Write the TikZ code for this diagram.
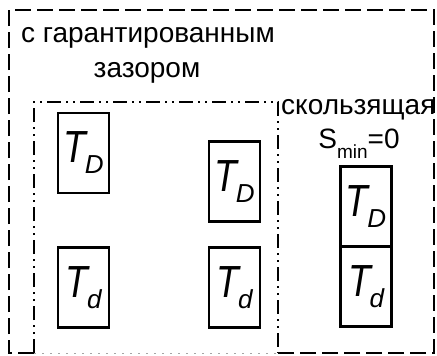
\documentclass[tikz,border=0pt]{standalone}
\usepackage{fontspec}
\setmainfont{Liberation Sans}
\usepackage{graphicx}
\usetikzlibrary{positioning}
\newcommand{\tlab}[1]{\scalebox{0.82}[1]{\fontsize{45}{45}\selectfont\itshape T}\kern-1pt\raisebox{-11pt}{\fontsize{26}{26}\selectfont\itshape #1}}

\begin{document}
\begin{tikzpicture}[x=1pt,y=-1pt, font=\fontsize{28}{32}\selectfont,
    dopusk/.style={draw=black, line width=2.6pt, minimum width=51pt, minimum height=80pt, inner sep=0pt, align=center},
    vnesh/.style={line width=1.8pt, dash pattern=on 16pt off 6pt},
    vnutr/.style={line width=1.5pt, dash pattern=on 14pt off 5pt on 2pt off 5pt on 2pt off 5pt},
    txt/.style={inner sep=0pt}]
  \useasboundingbox (0,0) rectangle (437,356);
  % outer and inner frames
  \draw[vnesh] (34,353) -- (9,353) -- (9,10) -- (434,10) -- (434,353) -- (278,353);
  \draw[vnutr] (34,353) -- (34,102) -- (278,102) -- (278,353);
  \draw[black!35, line width=1pt, dash pattern=on 2pt off 6pt] (34,353) -- (278,353);
  % tolerance fields
  \node[dopusk] (tD1) at (83.5,153) {\tlab{D}};
  \node[dopusk] (td1) at (83.5,287.5) {\tlab{d}};
  \node[dopusk] (tD2) at (234.5,181.5) {\tlab{D}};
  \node[dopusk] (td2) at (234.5,287.5) {\tlab{d}};
  \node[dopusk] (tD3) at (366,206.5) {\tlab{D}};
  \node[dopusk, below=-2.6pt of tD3] (td3) {\tlab{d}};
  % labels
  \node[txt, anchor=west] (zag1) at (21,38) {с гарантированным};
  \node[txt] (zag2) at (147,73) {зазором};
  \node[txt, anchor=west] (zag3) at (281,110) {скользящая};
  \node[txt, anchor=base] (smin) at (359,148) {S\raisebox{-10pt}{\fontsize{19}{19}\selectfont min}=0};
\end{tikzpicture}
\end{document}
